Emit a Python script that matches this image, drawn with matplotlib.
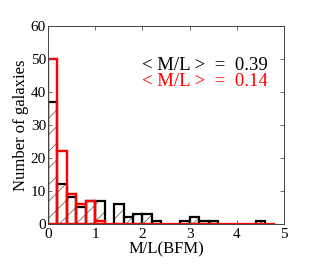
import numpy as np
import matplotlib.pyplot as plt

plt.rcParams['font.family'] = ['Liberation Serif', 'DejaVu Serif']
plt.rcParams['hatch.color'] = '#555555'
plt.rcParams['hatch.linewidth'] = 0.5

# bin edges (width 0.2) and counts
edges = np.round(np.arange(0, 4.81, 0.2), 2)
counts_all = [37, 12, 8, 5, 7, 7, 0, 6, 2, 3, 3, 1, 0, 0, 1, 2, 1, 1, 0, 0, 0, 0, 1, 0]
counts_red = [50, 22, 9, 6, 7, 1, 0, 0, 0, 0, 0, 0, 0, 0, 0, 0, 0, 0, 0, 0, 0, 0, 0, 0]

fig = plt.figure(figsize=(3.16, 2.64), dpi=100)
ax = fig.add_axes([0.152, 0.152, 0.747, 0.75])

left = edges[:-1]
all_ = np.array(counts_all)
red = np.array(counts_red)
ax.bar(left[all_ > 0], all_[all_ > 0], width=0.2, align='edge',
       facecolor='none', edgecolor='#555555', linewidth=0, hatch='//')
ax.bar(left[all_ > 0], all_[all_ > 0], width=0.2, align='edge',
       facecolor='none', edgecolor='black', linewidth=1.6)
ax.stairs(counts_red, edges, color='red', linewidth=1.6)
ax.bar(left[red > 0], red[red > 0], width=0.2, align='edge',
       facecolor='none', edgecolor='red', linewidth=1.6)

ax.set_xlim(0, 5)
ax.set_ylim(0, 60)
ax.set_xticks([0, 1, 2, 3, 4, 5])
ax.set_yticks([0, 10, 20, 30, 40, 50, 60])
ax.tick_params(direction='in', top=True, right=True, labelsize=11, length=3,
               width=0.6, color='#555555')
ax.tick_params(axis='x', pad=3)
ax.tick_params(axis='y', pad=1.5)
for s in ax.spines.values():
    s.set_linewidth(0.7)
    s.set_color('#444444')
ax.set_xlabel('M/L(BFM)', fontsize=12, labelpad=0)
ax.set_ylabel('Number of galaxies', fontsize=12, labelpad=1)

ax.text(2.0, 48, '< M/L >  =  0.39', fontsize=13.5, color='black', va='center')
ax.text(2.0, 43, '< M/L >  =  0.14', fontsize=13.5, color='red', va='center')

fig.savefig('out.png', dpi=100)
